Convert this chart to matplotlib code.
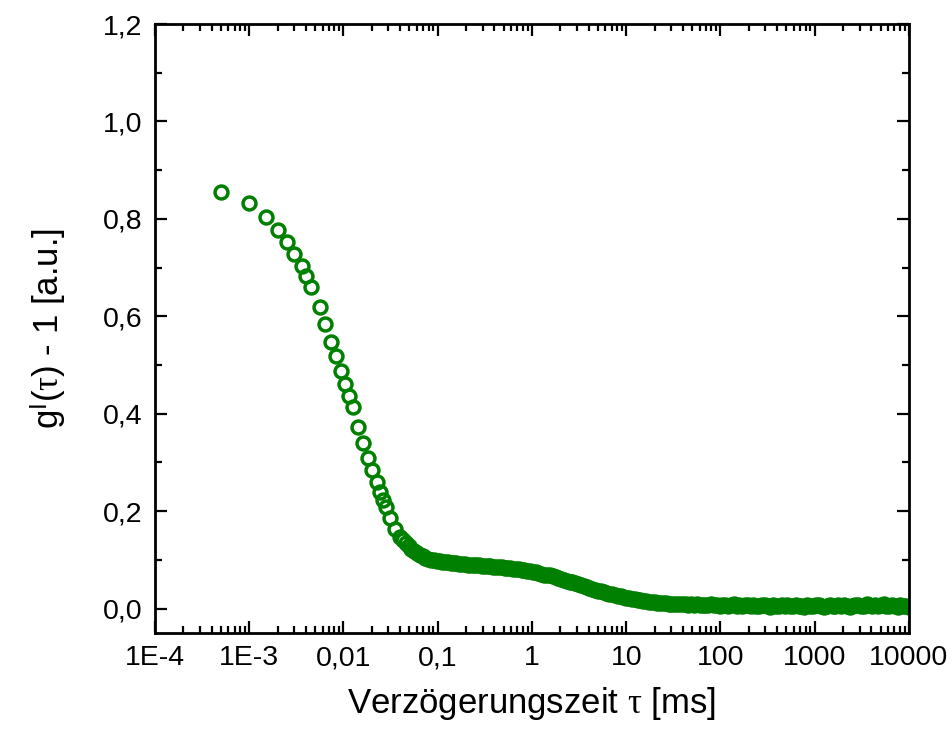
import matplotlib
matplotlib.use('Agg')
import matplotlib.pyplot as plt
from matplotlib.ticker import FixedLocator, FixedFormatter, LogLocator, MultipleLocator

plt.rcParams['font.family'] = ['Liberation Sans', 'DejaVu Sans']
plt.rcParams['mathtext.fontset'] = 'custom'
plt.rcParams['mathtext.rm'] = 'Liberation Sans'
plt.rcParams['mathtext.it'] = 'Liberation Serif'
plt.rcParams['mathtext.bf'] = 'Liberation Sans:bold'

# delay time tau [ms]
tau = [0.0005, 0.001, 0.0015, 0.002, 0.0025, 0.003, 0.0036, 0.004, 0.0045,
       0.0056, 0.0064, 0.0074, 0.0084, 0.0095, 0.0104, 0.0115, 0.0125, 0.0144,
       0.016, 0.0183, 0.0202, 0.0225, 0.0243, 0.026, 0.028, 0.031, 0.035,
       0.0398, 0.0427, 0.0457, 0.0490, 0.0525, 0.0562, 0.0603, 0.0646, 0.0692, 0.0741, 0.0794, 0.0851, 0.0912, 0.0977,
       0.105, 0.112, 0.120, 0.129, 0.138, 0.148, 0.158, 0.170, 0.182, 0.195, 0.209, 0.224, 0.240, 0.257,
       0.275, 0.295, 0.316, 0.339, 0.363, 0.389, 0.417, 0.447, 0.479, 0.513, 0.550, 0.589, 0.631, 0.676,
       0.724, 0.776, 0.832, 0.891, 0.955, 1.02, 1.10, 1.17, 1.26, 1.35, 1.45, 1.55, 1.66, 1.78,
       1.91, 2.04, 2.19, 2.34, 2.51, 2.69, 2.88, 3.09, 3.31, 3.55, 3.80, 4.07, 4.37, 4.68,
       5.01, 5.37, 5.75, 6.17, 6.61, 7.08, 7.59, 8.13, 8.71, 9.33, 10.0, 10.7, 11.5, 12.3,
       13.2, 14.1, 15.1, 16.2, 17.4, 18.6, 20.0, 21.4, 22.9, 24.5, 26.3, 28.2, 30.2, 32.4,
       34.7, 37.2, 39.8, 42.7, 45.7, 49.0, 52.5, 56.2, 60.3, 64.6, 69.2, 74.1, 79.4, 85.1,
       91.2, 97.7, 105, 112, 120, 129, 138, 148, 158, 170, 182, 195, 209, 224,
       240, 257, 275, 295, 316, 339, 363, 389, 417, 447, 479, 513, 550, 589,
       631, 676, 724, 776, 832, 891, 955, 1020, 1100, 1170, 1260, 1350, 1450, 1550,
       1660, 1780, 1910, 2040, 2190, 2340, 2510, 2690, 2880, 3090, 3310, 3550, 3800, 4070,
       4370, 4680, 5010, 5370, 5750, 6170, 6610, 7080, 7590, 8130, 8710, 9330, 10000]

# g1(tau) - 1
g1 = [0.855, 0.833, 0.803, 0.778, 0.753, 0.728, 0.704, 0.682, 0.661,
      0.620, 0.584, 0.548, 0.519, 0.488, 0.462, 0.437, 0.414, 0.373,
      0.339, 0.310, 0.284, 0.260, 0.239, 0.222, 0.208, 0.185, 0.164,
      0.146, 0.140, 0.134, 0.128, 0.123, 0.118, 0.114, 0.110, 0.107, 0.104, 0.102, 0.100, 0.099, 0.098,
      0.097, 0.096, 0.095, 0.095, 0.094, 0.093, 0.093, 0.092, 0.091, 0.091, 0.090, 0.090, 0.089, 0.089,
      0.089, 0.088, 0.088, 0.087, 0.087, 0.086, 0.086, 0.085, 0.085, 0.084, 0.084, 0.083, 0.082, 0.081,
      0.081, 0.080, 0.079, 0.078, 0.077, 0.076, 0.075, 0.073, 0.072, 0.070, 0.069, 0.068, 0.066, 0.064,
      0.063, 0.061, 0.059, 0.057, 0.055, 0.054, 0.052, 0.050, 0.048, 0.046, 0.044, 0.043, 0.041, 0.039,
      0.037, 0.036, 0.034, 0.032, 0.031, 0.029, 0.028, 0.026, 0.025, 0.023, 0.022, 0.021, 0.020, 0.019,
      0.018, 0.017, 0.016, 0.015, 0.014, 0.014, 0.013, 0.012, 0.012, 0.011, 0.011, 0.010, 0.010, 0.010,
      0.009, 0.010, 0.009, 0.009, 0.008, 0.009, 0.008, 0.009, 0.007, 0.008, 0.008, 0.007, 0.009, 0.007,
      0.008, 0.006, 0.007, 0.008, 0.006, 0.007, 0.009, 0.006, 0.007, 0.005, 0.008, 0.007, 0.006, 0.008,
      0.006, 0.005, 0.007, 0.008, 0.006, 0.004, 0.007, 0.006, 0.005, 0.008, 0.006, 0.007, 0.005, 0.006,
      0.008, 0.005, 0.006, 0.004, 0.007, 0.006, 0.005, 0.007, 0.008, 0.006, 0.004, 0.006, 0.007, 0.005,
      0.006, 0.008, 0.005, 0.007, 0.006, 0.004, 0.006, 0.008, 0.007, 0.005, 0.006, 0.009, 0.007, 0.006,
      0.008, 0.005, 0.007, 0.009, 0.006, 0.005, 0.008, 0.006, 0.004, 0.007, 0.005, 0.006, 0.004]

x_ticks = [1e-4, 1e-3, 1e-2, 1e-1, 1, 10, 100, 1000, 10000]
x_labels = ['1E-4', '1E-3', '0,01', '0,1', '1', '10', '100', '1000', '10000']
y_ticks = [0.0, 0.2, 0.4, 0.6, 0.8, 1.0, 1.2]
y_labels = ['0,0', '0,2', '0,4', '0,6', '0,8', '1,0', '1,2']

fig = plt.figure(figsize=(9.53, 7.35), dpi=100)
ax = fig.add_axes([0.1626, 0.1388, 0.7912, 0.8285])

ax.plot(tau, g1, linestyle='none', marker='o', markersize=9.3,
        markerfacecolor='none', markeredgecolor='#008000', markeredgewidth=2.5)

ax.set_xscale('log')
ax.set_xlim(1e-4, 1e4)
ax.set_ylim(-0.05, 1.2)

ax.xaxis.set_major_locator(FixedLocator(x_ticks))
ax.xaxis.set_major_formatter(FixedFormatter(x_labels))
ax.xaxis.set_minor_locator(LogLocator(base=10, subs=range(2, 10), numticks=20))
ax.xaxis.set_minor_formatter(FixedFormatter([]))
ax.yaxis.set_major_locator(FixedLocator(y_ticks))
ax.yaxis.set_major_formatter(FixedFormatter(y_labels))
ax.yaxis.set_minor_locator(MultipleLocator(0.1))

for side in ax.spines.values():
    side.set_linewidth(2.0)
ax.tick_params(which='both', direction='in', top=True, right=True, width=1.6)
ax.tick_params(which='major', length=8.5, labelsize=20.5, pad=9)
ax.tick_params(which='minor', length=5)

ax.set_xlabel('Verzögerungszeit $\\tau$ [ms]', fontsize=25, labelpad=10)
ax.set_ylabel('g$^{\\rm I}$($\\tau$) - 1 [a.u.]', fontsize=25, labelpad=24)

fig.savefig('out.png', dpi=100)
plt.close(fig)
